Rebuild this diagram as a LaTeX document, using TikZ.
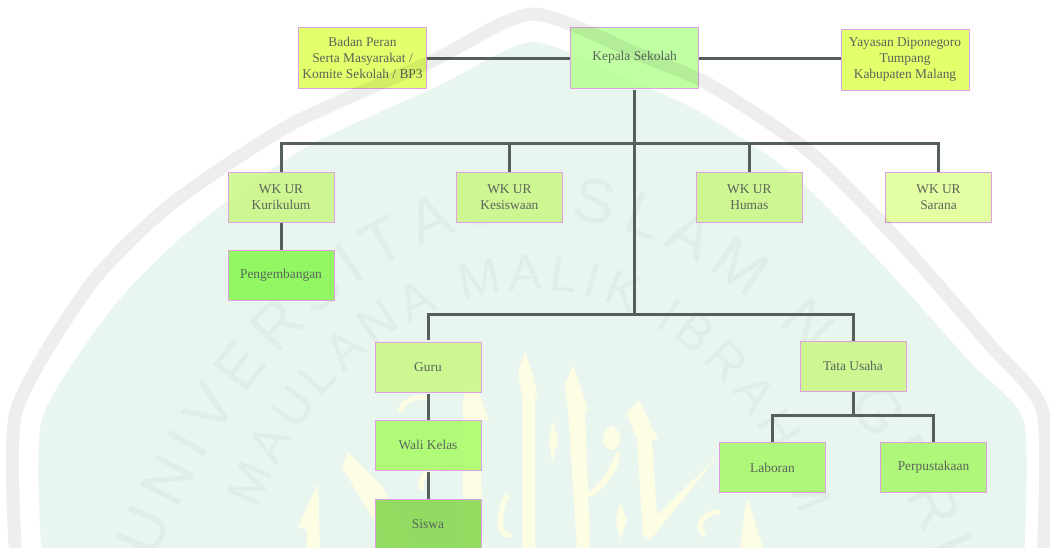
\documentclass[tikz,border=0pt]{standalone}
\usepackage{fontspec}
\setmainfont{Liberation Serif}
\setsansfont{Liberation Sans}
\usetikzlibrary{decorations.text}

\definecolor{wmgreen}{HTML}{E9F5EF}
\definecolor{wmtext}{HTML}{E1EDE7}
\definecolor{wmyellow}{HTML}{FDFDE4}
\definecolor{linkcol}{HTML}{565F5A}
\definecolor{edgecol}{HTML}{E09FE0}
\definecolor{labelcol}{HTML}{5A645A}
\definecolor{filltop}{HTML}{DEFF58}
\definecolor{fillhead}{HTML}{B8FF96}
\definecolor{fillwk}{HTML}{CBF787}
\definecolor{fillpale}{HTML}{E0FF96}
\definecolor{filldev}{HTML}{85F850}
\definecolor{filllime}{HTML}{A8FC68}
\definecolor{filldark}{HTML}{86D850}
\definecolor{filllab}{HTML}{A8F86C}

\newcommand{\wmbig}{\sffamily\fontsize{62}{62}\selectfont}
\newcommand{\wmsmall}{\sffamily\fontsize{50}{50}\selectfont}

\begin{document}
\begin{tikzpicture}[
	x=1pt, y=-1pt,
	every node/.style={draw=edgecol, line width=0.9pt, fill opacity=0.88, text opacity=1, align=center, inner sep=0pt, text=labelcol, font=\fontsize{13.4}{16}\selectfont},
	wide/.style={minimum width=128pt, minimum height=61pt},
	small/.style={minimum width=106pt, minimum height=50pt},
	link/.style={draw=linkcol, line width=3pt},
	band/.style={draw=black, line width=13pt, opacity=0.065},
	callig/.style={fill=wmyellow},
	curl/.style={draw=wmyellow, line width=5pt}
	]

		\useasboundingbox (0,0) rectangle (1050,548);

		% Watermark
		\fill[wmgreen] plot[smooth, tension=0.4] coordinates {(42,560) (42,419) (115,305) (190,230) (305,148) (440,85) (532,42) (630,80) (700,112) (790,172) (880,262) (970,362) (1024,422) (1024,560)};
		\fill[callig] (525,352) -- (518,372) -- (522,395) -- (522,548) -- (535,548) -- (535,395) -- (538,397) -- (533,375) -- cycle;
		\fill[callig] (573,365) -- (565,385) -- (568,410) -- (577,548) -- (590,548) -- (585,410) -- (588,410) -- cycle;
		\fill[callig] (639,400) -- (627,413) -- (637,440) -- (643,535) -- (650,540) -- (717,457) -- (657,515) -- (652,440) -- (658,440) -- cycle;
		\fill[callig] (472,373) -- (463,398) -- (463,548) -- (483,548) -- (480,420) -- (489,420) -- cycle;
		\fill[callig] (348,452) -- (342,467) -- (390,548) -- (413,548) -- (383,487) -- cycle;
		\fill[callig] (318,483) -- (298,527) -- (307,530) -- (307,548) -- (320,548) -- cycle;
		\fill[callig] (747,497) -- (740,548) -- (763,548) -- cycle;
		\fill[callig] (553,420) -- (549,440) -- (552,463) -- (558,440) -- cycle;
		\fill[callig] (620,503) -- (616,520) -- (620,540) -- (627,520) -- cycle;
		\fill[callig] (612,426) .. controls (600,430) and (600,448) .. (612,450) .. controls (620,450) and (625,432) .. (612,426) -- cycle;
		\fill[callig] (616,452) .. controls (610,470) and (600,485) .. (587,493) -- (590,497) .. controls (605,490) and (618,472) .. (621,452) -- cycle;
		\draw[curl] (400,412) .. controls (402,400) and (415,397) .. (427,397);
		\draw[curl] (422,490) .. controls (418,475) and (430,467) .. (447,467);
		\draw[curl] (507,495) .. controls (495,520) and (500,538) .. (512,535);
		\draw[curl] (720,512) .. controls (700,512) and (695,530) .. (705,535);
		\path[decorate, decoration={text along path, text align={fit to path}, text={|\wmbig\color{wmtext}|UNIVERSITAS ISLAM NEGERI}}]
			(155,560) .. controls (240,340) and (400,218) .. (545,218) .. controls (690,218) and (850,350) .. (935,560);
		\path[decorate, decoration={text along path, text align={fit to path}, text={|\wmsmall\color{wmtext}|MAULANA MALIK IBRAHIM}}]
			(258,510) .. controls (310,370) and (420,290) .. (535,290) .. controls (650,290) and (760,390) .. (800,515);

		% Nodes
		\node[wide, fill=filltop] (badan) at (362.5,57.5) {Badan Peran\\Serta Masyarakat /\\Komite Sekolah / BP3};
		\node[wide, fill=fillhead] (kepala) at (634.7,57.5) {Kepala Sekolah};
		\node[wide, fill=filltop] (yayasan) at (905,59.5) {Yayasan Diponegoro\\Tumpang\\Kabupaten Malang};

		\node[small, fill=fillwk] (kurikulum) at (281,197.3) {WK UR\\Kurikulum};
		\node[small, fill=fillwk] (kesiswaan) at (509.4,197.3) {WK UR\\Kesiswaan};
		\node[small, fill=fillwk] (humas) at (749.3,197.3) {WK UR\\Humas};
		\node[small, fill=fillpale] (sarana) at (938.5,197.3) {WK UR\\Sarana};
		\node[small, fill=filldev] (pengembangan) at (281,275) {Pengembangan};

		\node[small, fill=fillwk] (guru) at (428,367.3) {Guru};
		\node[small, fill=filllime] (walikelas) at (428,445.3) {Wali Kelas};
		\node[small, fill=filldark] (siswa) at (428,524) {Siswa};

		\node[small, fill=fillwk] (tatausaha) at (853,366.3) {Tata Usaha};
		\node[small, fill=filllab] (laboran) at (772.5,467.5) {Laboran};
		\node[small, fill=filllab] (perpustakaan) at (933.5,467.2) {Perpustakaan};

		% Links
		\coordinate (toprow) at (634,59);
		\coordinate (busa) at (634,144);
		\coordinate (busb) at (634,314);
		\coordinate (busc) at (853,415);

		\draw[link] (badan.east |- toprow) -- (kepala.west |- toprow);
		\draw[link] (kepala.east |- toprow) -- (yayasan.west |- toprow);
		\draw[link, shorten <=2pt] (kepala.south -| busa) -- (busb);
		\draw[link] (kurikulum.north) |- (busa) -| (sarana.north);
		\draw[link] (kesiswaan.north) -- (kesiswaan.north |- busa);
		\draw[link] (humas.north) -- (humas.north |- busa);
		\draw[link] (kurikulum.south) -- (pengembangan.north);
		\draw[link, shorten <=2pt] (guru.north) |- (busb) -| (tatausaha.north);
		\draw[link, shorten <=1pt] (guru.south) -- (walikelas.north);
		\draw[link, shorten <=1pt] (walikelas.south) -- (siswa.north);
		\draw[link] (tatausaha.south) -- (busc);
		\draw[link] (laboran.north) |- (busc) -| (perpustakaan.north);

		% Watermark band on top
		\draw[band] plot[smooth, tension=0.4] coordinates {(16,560) (16,412) (90,285) (170,205) (290,125) (430,62) (532,14) (640,55) (710,85) (810,152) (900,242) (990,345) (1043,412) (1043,560)};
	\end{tikzpicture}
\end{document}
